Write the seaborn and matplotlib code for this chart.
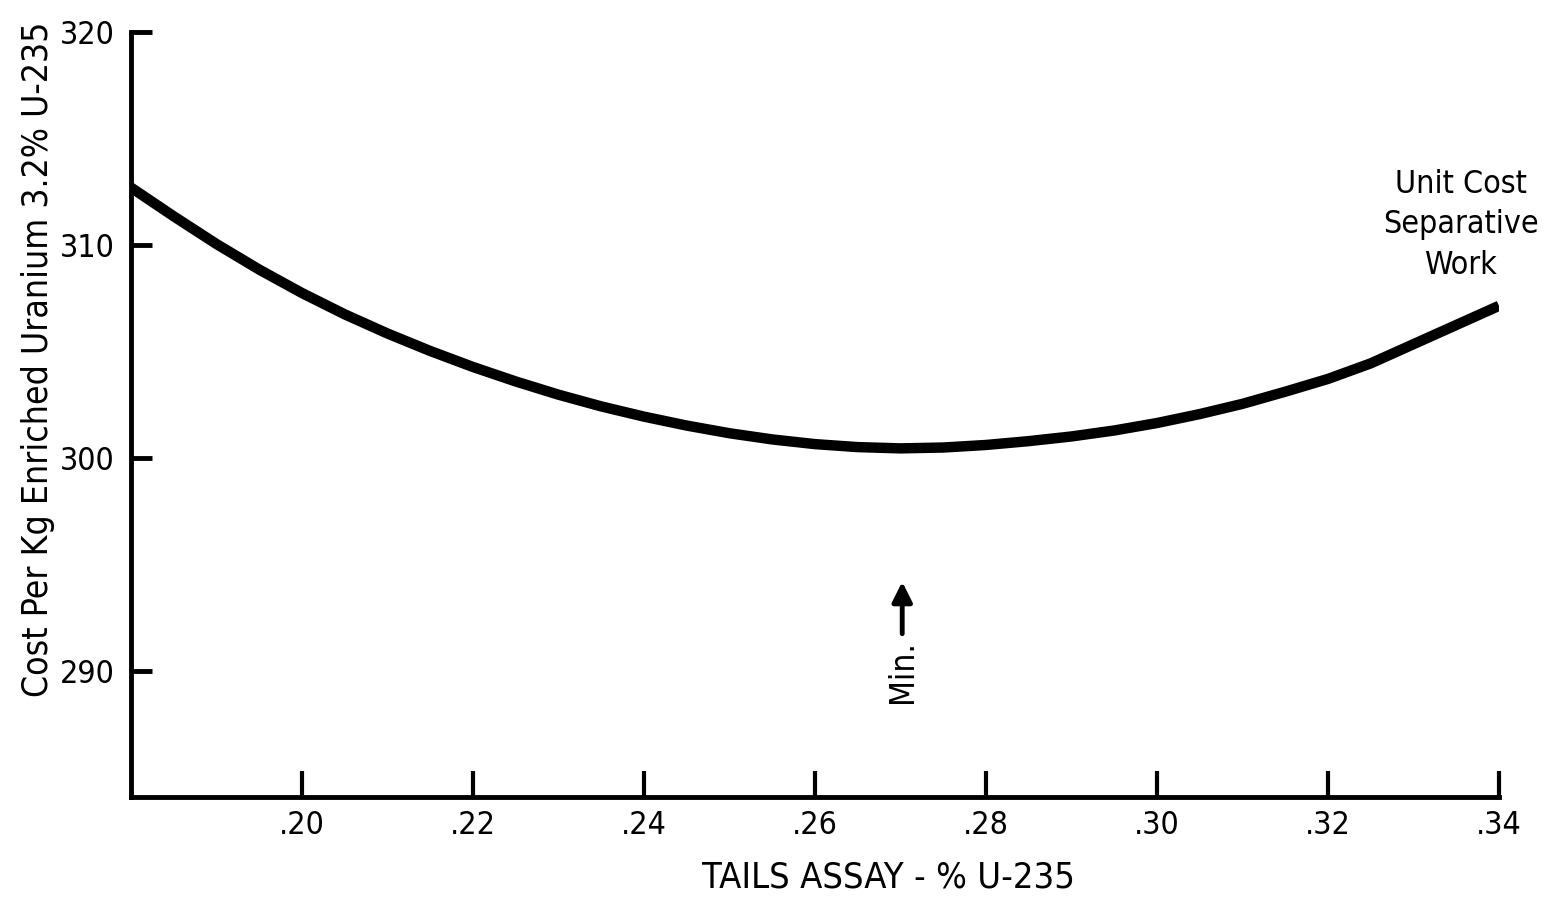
import numpy as np
import pandas as pd
import matplotlib
matplotlib.use("Agg")
import matplotlib.pyplot as plt
import seaborn as sns

# tails assay (% U-235) and cost per kg of 3.2% enriched uranium
tails_assay = [0.180, 0.185, 0.190, 0.195, 0.200, 0.205, 0.210, 0.215, 0.220,
               0.225, 0.230, 0.235, 0.240, 0.245, 0.250, 0.255, 0.260, 0.265,
               0.270, 0.275, 0.280, 0.285, 0.290, 0.295, 0.300, 0.305, 0.310,
               0.315, 0.320, 0.325, 0.330, 0.335, 0.340]
unit_cost = [312.70, 311.35, 310.05, 308.85, 307.75, 306.75, 305.85, 305.03, 304.28,
             303.60, 302.98, 302.43, 301.95, 301.53, 301.17, 300.88, 300.66, 300.52,
             300.46, 300.50, 300.62, 300.80, 301.02, 301.30, 301.65, 302.07, 302.55,
             303.12, 303.72, 304.45, 305.35, 306.25, 307.15]

x_ticks = [0.20, 0.22, 0.24, 0.26, 0.28, 0.30, 0.32, 0.34]
x_tick_labels = [".20", ".22", ".24", ".26", ".28", ".30", ".32", ".34"]
y_ticks = [290, 300, 310, 320]
y_tick_labels = ["290", "300", "310", "320"]

curve_label = "Unit Cost\nSeparative\nWork"
min_assay = 0.2702

sns.set_style("ticks")
plt.rcParams["font.family"] = ["DejaVu Sans"]
plt.rcParams["font.stretch"] = "condensed"
plt.rcParams["text.color"] = "black"
plt.rcParams["xtick.color"] = "black"
plt.rcParams["ytick.color"] = "black"

df = pd.DataFrame({"assay": tails_assay, "cost": unit_cost})

fig = plt.figure(figsize=(15.46, 8.98), dpi=100)
ax = fig.add_axes([131 / 1546, 1 - 797 / 898, (1499 - 131) / 1546, (797 - 32) / 898])

sns.lineplot(data=df, x="assay", y="cost", ax=ax, color="black", linewidth=7.5,
             solid_capstyle="butt", solid_joinstyle="round")

ax.set_xlim(0.18, 0.34)
ax.set_ylim(284.1, 320)
ax.set_xticks(x_ticks)
ax.set_xticklabels(x_tick_labels)
ax.set_yticks(y_ticks)
ax.set_yticklabels(y_tick_labels)
ax.set_xlabel("")
ax.set_ylabel("")

for side in ["top", "right"]:
    ax.spines[side].set_visible(False)
for side in ["left", "bottom"]:
    ax.spines[side].set_linewidth(3.5)
    ax.spines[side].set_color("black")

ax.tick_params(axis="x", direction="in", length=19, width=3, pad=9,
               labelsize=23)
ax.tick_params(axis="y", direction="in", length=15, width=3.5, pad=12,
               labelsize=23)

ax.text(0.3355, 310.95, curve_label, ha="center", va="center", fontsize=23,
        linespacing=1.4)

ax.annotate("Min.", xy=(min_assay, 294.2), xytext=(min_assay, 290.0),
            ha="center", va="center", rotation=90, fontsize=24,
            arrowprops=dict(arrowstyle="-|>", color="black", lw=3.5,
                            mutation_scale=30, shrinkA=2, shrinkB=0))

fig.text(889 / 1546, 1 - 878 / 898, "TAILS ASSAY - % U-235", ha="center",
         va="center", fontsize=26)
fig.text(38 / 1546, 1 - 359 / 898, "Cost Per Kg Enriched Uranium 3.2% U-235",
         ha="center", va="center", rotation=90, fontsize=25.5)

fig.savefig("out.png", dpi=100, facecolor="white")
